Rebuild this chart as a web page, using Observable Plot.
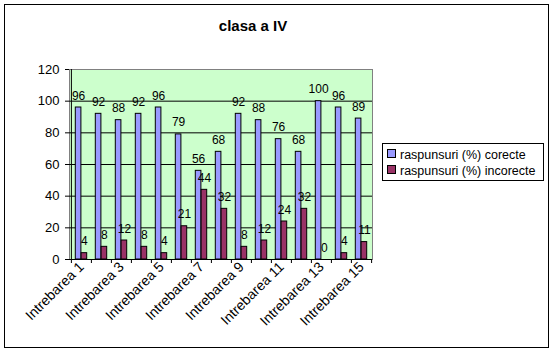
<!DOCTYPE html>
<html><head><meta charset="utf-8">
<script src="https://cdn.jsdelivr.net/npm/d3@7"></script>
<script src="https://cdn.jsdelivr.net/npm/@observablehq/plot@0.6"></script>
<style>
body{margin:0;background:#fff;font-family:Arial,"Liberation Sans",sans-serif;}
#wrap{position:relative;width:553px;height:354px;overflow:hidden;background:#fff}
#border{position:absolute;left:4px;top:4px;width:545px;height:344px;border:1px solid #000;box-sizing:border-box;pointer-events:none}
#title{position:absolute;left:0;width:506px;top:17px;text-align:center;font-weight:bold;font-size:15px;color:#000}
#legend{position:absolute;left:382px;top:143px;width:162px;height:38px;border:1px solid #000;box-sizing:border-box;background:#fff;font-size:12.5px;color:#000}
.li{position:absolute;left:4px;height:14px;line-height:14px;white-space:nowrap}
.sw{display:inline-block;width:7px;height:7px;border:1px solid #000;margin-right:4px;vertical-align:1px}
#chart{position:absolute;left:0;top:0}
</style></head>
<body>
<div id="wrap">
  <div id="chart"></div>
  <div id="title">clasa a IV</div>
  <div id="legend"></div>
  <div id="border"></div>
</div>
<script>
const categories = ["Intrebarea 1","Intrebarea 2","Intrebarea 3","Intrebarea 4","Intrebarea 5","Intrebarea 6","Intrebarea 7","Intrebarea 8","Intrebarea 9","Intrebarea 10","Intrebarea 11","Intrebarea 12","Intrebarea 13","Intrebarea 14","Intrebarea 15"];
const corecte = [96,92,88,92,96,79,56,68,92,88,76,68,100,96,89];
const incorecte = [4,8,12,8,4,21,44,32,8,12,24,32,0,4,11];
const seriesNames = ["raspunsuri (%) corecte","raspunsuri (%) incorecte"];
const colors = ["#9999FF","#993366"];
const yTicks = [0,20,40,60,80,100,120];
const gridValues = [20,40,60,80,100];
const labelTicks = ["Intrebarea 1","Intrebarea 3","Intrebarea 5","Intrebarea 7","Intrebarea 9","Intrebarea 11","Intrebarea 13","Intrebarea 15"];

const blue = categories.map((c,i)=>({cat:c, series:seriesNames[0], value:corecte[i]}));
const red = categories.map((c,i)=>({cat:c, series:seriesNames[1], value:incorecte[i]}));

const W=553, H=354, mL=69, mR=181, mT=69, mB=95;
const bw=(W-mL-mR)/categories.length;
const barW=5.8;

const chart = Plot.plot({
  width:W, height:H, marginLeft:mL, marginRight:mR, marginTop:mT, marginBottom:mB,
  style:{fontFamily:"Arial, 'Liberation Sans', sans-serif", color:"#000", background:"transparent"},
  x:{type:"band", domain:categories, padding:0, axis:null},
  y:{domain:[0,120], axis:null},
  marks:[
    Plot.frame({fill:"#CCFFCC", stroke:"#808080"}),
    Plot.ruleY(gridValues, {stroke:"#000", strokeWidth:1}),
    Plot.barY(blue, {x:"cat", y:"value", fill:colors[0], stroke:"#000", strokeWidth:1, insetLeft:bw/2-barW, insetRight:bw/2}),
    Plot.barY(red, {x:"cat", y:"value", fill:colors[1], stroke:"#000", strokeWidth:1, insetLeft:bw/2, insetRight:bw/2-barW}),
    Plot.ruleY([0], {stroke:"#000"}),
    Plot.ruleX([categories[0]], {dx:-bw/2, stroke:"#000"}),
    Plot.axisY({ticks:yTicks, tickSize:4, tickPadding:6, fontSize:13, label:null}),
    Plot.axisX({ticks:categories, tickSize:4, tickFormat:()=>"", dx:-bw/2, label:null}),
    Plot.axisX({ticks:[categories[categories.length-1]], tickSize:4, tickFormat:()=>"", dx:bw/2, label:null}),
    Plot.axisX({ticks:labelTicks, tickSize:0, tickPadding:5, tickRotate:-45, fontSize:14, label:null}),
    Plot.text(blue, {x:"cat", y:"value", text:d=>String(d.value), dx:-barW/2, dy:-8, lineAnchor:"bottom", fontSize:12, fill:"#000"}),
    Plot.text(red, {x:"cat", y:"value", text:d=>String(d.value), dx:barW/2, dy:-8, lineAnchor:"bottom", fontSize:12, fill:"#000"})
  ]
});
document.getElementById("chart").appendChild(chart);

const lg = document.getElementById("legend");
seriesNames.forEach((s,i)=>{
  const d = document.createElement("div");
  d.className="li";
  d.style.top = (4 + i*16) + "px";
  d.innerHTML = `<span class="sw" style="background:${colors[i]}"></span>${s}`;
  lg.appendChild(d);
});
</script>
</body></html>
